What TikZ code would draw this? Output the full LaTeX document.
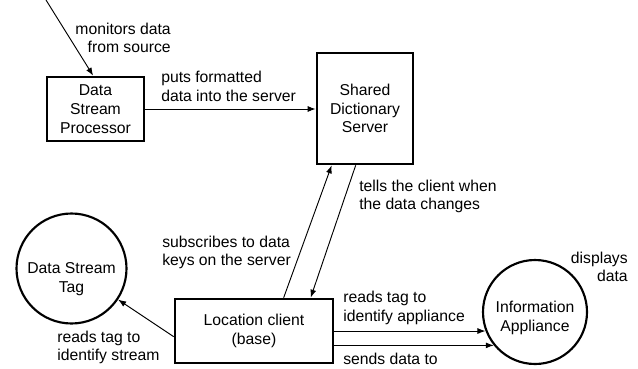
\documentclass[tikz,border=0pt]{standalone}
\usepackage{fontspec}
\setmainfont{Liberation Sans}
\usetikzlibrary{arrows.meta,calc}
\begin{document}
\begin{tikzpicture}[x=0.75pt,y=-0.75pt,
  font=\fontsize{11.8}{14}\selectfont,
  box/.style={draw, line width=2pt, align=center, inner sep=0pt},
  bub/.style={draw, circle, line width=1.6pt, inner sep=0pt},
  conn/.style={line width=0.7pt, -{Latex[length=6pt,width=4.5pt]}},
  lbl/.style={align=left, inner sep=0pt}]
\useasboundingbox (0,0) rectangle (638,368);
% nodes
\node[box, minimum width=72.75pt, minimum height=48pt] (dsp) at (95.5,109) {Data\\Stream\\Processor};
\node[box, minimum width=72pt, minimum height=83.25pt] (srv) at (365,108.5) {Shared\\Dictionary\\Server};
\node[box, minimum width=118.5pt, minimum height=48pt] (lc) at (254,331) {Location client\\(base)};
\node[bub, minimum size=82.5pt, label={[align=center,yshift=-8pt]center:Data Stream\\Tag}] (dst) at (71.5,268.5) {};
\node[bub, minimum size=78pt, label={[align=center,yshift=-4.5pt]center:Information\\Appliance}] (ia) at (535,312) {};
\coordinate (src) at (46,0);
% labels
\node[lbl, anchor=east, align=right] (l1) at (171,38) {monitors data\\from source};
\node[lbl, anchor=west] (l2) at (161,86.5) {puts formatted\\data into the server};
\node[lbl, anchor=west] (l3) at (359,196.5) {tells the client when\\the data changes};
\node[lbl, anchor=west] (l4) at (162,252.5) {subscribes to data\\keys on the server};
\node[lbl, anchor=west] (l5) at (57,347.5) {reads tag to\\identify stream};
\node[lbl, anchor=west] (l6) at (343,308) {reads tag to\\identify appliance};
\node[lbl, anchor=west] (l7) at (343,359) {sends data to};
\node[lbl, anchor=east, align=right] (l8) at (628,267) {displays\\data};
% connectors
\draw[conn] (src) -- ($(dsp.north west)+(47.5,0)$);
\draw[conn] (dsp.east) -- (dsp.east -| srv.west);
\draw[conn] ($(lc.north west)+(110,0)$) -- ($(srv.south west)+(16,0)$);
\draw[conn] ($(srv.south west)+(40,0)$) -- ($(lc.north west)+(137,0)$);
\draw[conn] ($(lc.north west)+(0,39)$) -- (dst);
\draw[conn] (lc.east |- ia.201) -- (ia.201);
\draw[conn] (lc.east |- ia.219) -- (ia.219);
\end{tikzpicture}
\end{document}
